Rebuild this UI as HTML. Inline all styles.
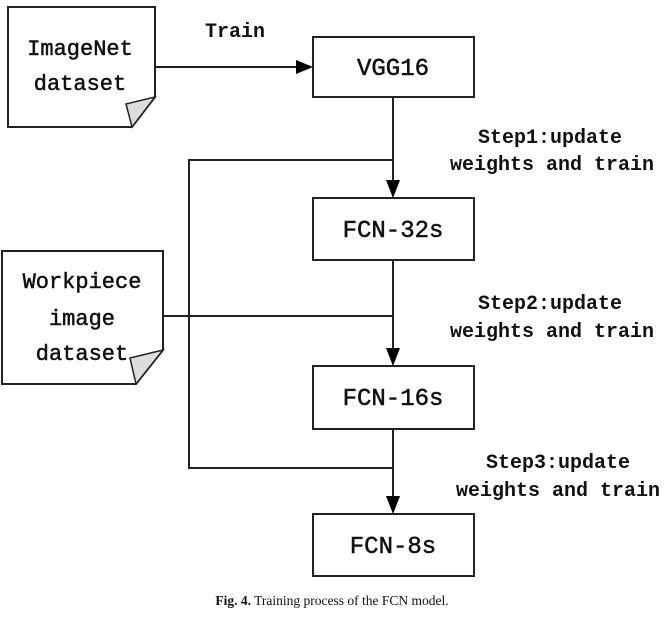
<!DOCTYPE html>
<html><head><style>
body{margin:0;background:#fff;width:664px;height:612px;overflow:hidden}
svg text{font-family:"Liberation Mono",monospace;fill:#111}
</style></head><body>
<svg width="664" height="612" xmlns="http://www.w3.org/2000/svg">
<g fill="none" stroke="#222" stroke-width="2">
<polygon points="8,7 155,7 155,97 132,127 8,127" fill="#fff"/>
<polygon points="2,251 163,251 163,350 136,384 2,384" fill="#fff"/>
<rect x="313" y="37" width="161" height="60"/>
<rect x="313" y="198" width="161" height="62"/>
<rect x="313" y="366" width="161" height="63"/>
<rect x="313" y="514" width="161" height="62"/>
<line x1="155" y1="67" x2="296" y2="67"/>
<line x1="393" y1="97" x2="393" y2="182"/>
<line x1="393" y1="260" x2="393" y2="350"/>
<line x1="393" y1="429" x2="393" y2="498"/>
<polyline points="393,160 189,160 189,468 393,468"/>
<line x1="163" y1="316" x2="393" y2="316"/>
</g>
<g fill="#ddd" stroke="#222" stroke-width="1.5">
<polygon points="126,104 155,97 132,127"/>
<polygon points="130,358 163,350 136,384"/>
</g>
<g fill="#000">
<polygon points="296,60 313,67 296,74"/>
<polygon points="386,180 400,180 393,198"/>
<polygon points="386,348 400,348 393,366"/>
<polygon points="386,496 400,496 393,514"/>
</g>
<g font-size="22" text-anchor="middle" stroke="#111" stroke-width="0.5">
<text x="80" y="55">ImageNet</text>
<text x="80" y="90">dataset</text>
<text x="82" y="288">Workpiece</text>
<text x="82" y="325">image</text>
<text x="82" y="360">dataset</text>
</g>
<g font-size="24" text-anchor="middle" stroke="#111" stroke-width="0.5">
<text x="393" y="75">VGG16</text>
<text x="393" y="237">FCN-32s</text>
<text x="393" y="405">FCN-16s</text>
<text x="393" y="553">FCN-8s</text>
</g>
<g font-size="20" text-anchor="middle" font-weight="bold">
<text x="235" y="37">Train</text>
<text x="550" y="143">Step1:update</text>
<text x="552" y="170">weights and train</text>
<text x="550" y="309">Step2:update</text>
<text x="552" y="337">weights and train</text>
<text x="558" y="468">Step3:update</text>
<text x="558" y="496">weights and train</text>
</g>
<text x="332" y="605" text-anchor="middle" font-size="13.5" style="font-family:'Liberation Serif',serif"><tspan font-weight="bold">Fig. 4.</tspan> Training process of the FCN model.</text>
</svg>
</body></html>
